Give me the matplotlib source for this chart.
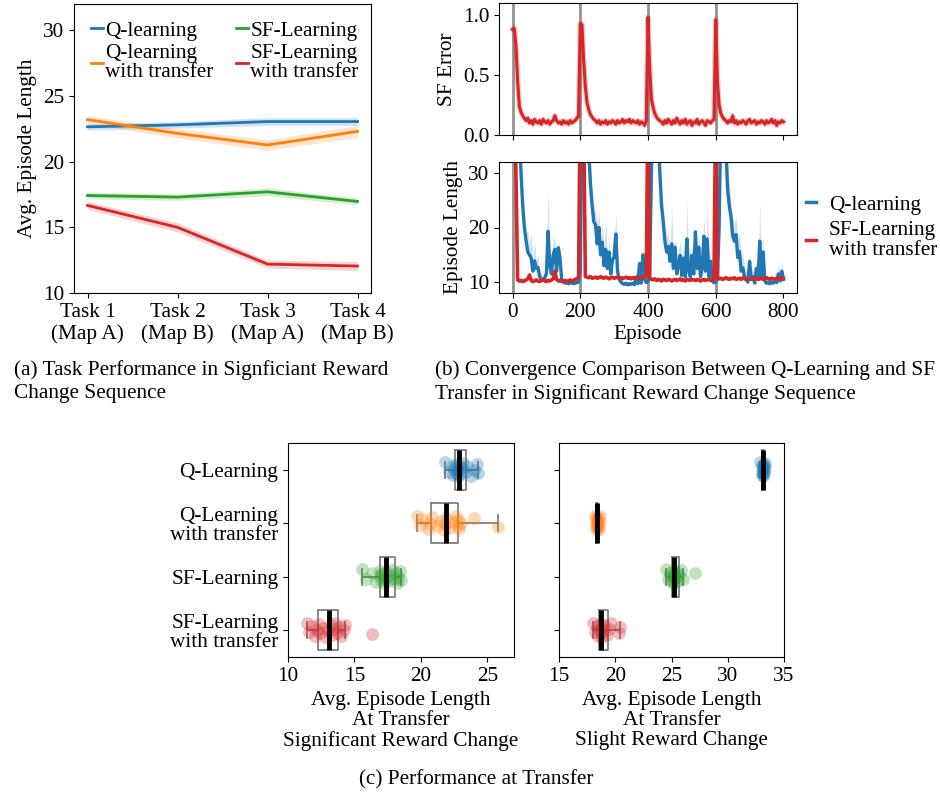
import numpy as np
import matplotlib
matplotlib.use("Agg")
import matplotlib.pyplot as plt

plt.rcParams["font.family"] = ["Liberation Serif", "DejaVu Serif"]
plt.rcParams["font.size"] = 15.3

W, H = 940, 794
BLUE, ORANGE, GREEN, RED = "#1f77b4", "#ff7f0e", "#2ca02c", "#d62728"

# ---- (a) task performance, significant reward change sequence
tasks = ["Task 1\n(Map A)", "Task 2\n(Map B)", "Task 3\n(Map A)", "Task 4\n(Map B)"]
q_mean = [22.65, 22.8, 23.05, 23.05]
q_ci = [0.25, 0.25, 0.3, 0.3]
qt_mean = [23.2, 22.15, 21.27, 22.3]
qt_ci = [0.3, 0.35, 0.4, 0.45]
sf_mean = [17.42, 17.3, 17.7, 16.97]
sf_ci = [0.25, 0.25, 0.3, 0.25]
sft_mean = [16.67, 15.0, 12.2, 12.05]
sft_ci = [0.3, 0.35, 0.3, 0.35]

# ---- (b) convergence, sampled every 5 episodes (0..800)
sf_err = [
    0.88, 0.89, 0.75, 0.45, 0.24, 0.19, 0.16, 0.14, 0.12, 0.14,
    0.10, 0.12, 0.09, 0.13, 0.11, 0.10, 0.12, 0.09, 0.13, 0.11,
    0.10, 0.12, 0.09, 0.11, 0.12, 0.16, 0.12, 0.10, 0.11, 0.09,
    0.12, 0.10, 0.11, 0.09, 0.12, 0.10, 0.11, 0.12, 0.14, 0.16,
    0.93, 0.92, 0.62, 0.40, 0.27, 0.21, 0.17, 0.15, 0.13, 0.12,
    0.10, 0.12, 0.09, 0.11, 0.10, 0.12, 0.09, 0.11, 0.10, 0.12,
    0.11, 0.09, 0.12, 0.10, 0.11, 0.13, 0.10, 0.12, 0.11, 0.13,
    0.10, 0.12, 0.11, 0.10, 0.12, 0.09, 0.11, 0.10, 0.08, 0.12,
    0.98, 0.55, 0.30, 0.23, 0.18, 0.15, 0.13, 0.12, 0.11, 0.09,
    0.12, 0.10, 0.13, 0.11, 0.09, 0.12, 0.10, 0.14, 0.11, 0.09,
    0.12, 0.10, 0.13, 0.09, 0.11, 0.12, 0.08, 0.11, 0.10, 0.13,
    0.09, 0.11, 0.12, 0.10, 0.08, 0.12, 0.11, 0.10, 0.12, 0.13,
    0.96, 0.45, 0.25, 0.18, 0.15, 0.13, 0.12, 0.10, 0.12, 0.11,
    0.16, 0.10, 0.12, 0.09, 0.11, 0.10, 0.12, 0.11, 0.09, 0.12,
    0.13, 0.10, 0.11, 0.12, 0.09, 0.11, 0.10, 0.12, 0.11, 0.09,
    0.12, 0.10, 0.11, 0.13, 0.10, 0.12, 0.08, 0.11, 0.10, 0.12,
    0.11,
]
q_len = [
    60, 55, 50, 45, 38, 30, 24, 20, 17.5, 15.5,
    15.0, 14.4, 12.0, 13.9, 12.5, 12.7, 11.0, 10.5, 10.3, 10.8,
    11.5, 19.3, 13.0, 11.5, 15.0, 16.0, 12.0, 16.3, 14.5, 10.5,
    10.0, 9.8, 9.9, 9.7, 9.8, 9.9, 9.7, 9.8, 9.9, 10.0,
    12, 40, 45, 45, 40, 34, 28, 24, 21, 20.5,
    17, 20, 15, 17.3, 13, 16, 12.5, 15.5, 11.5, 14.0,
    14.6, 18.8, 12, 10.5, 10.0, 9.7, 9.6, 9.8, 9.5, 9.7,
    9.6, 9.8, 9.5, 10.8, 9.7, 13.4, 9.8, 15.0, 10.5, 9.9,
    10.2, 12, 30, 45, 45, 45, 38, 30, 24, 21.0,
    17.4, 15.5, 16.5, 13.8, 17.0, 12.5, 16.4, 11.5, 13.0, 14.9,
    11.2, 14.4, 11.0, 17.9, 12.0, 11.0, 14.9, 11.5, 19.2, 12.5,
    16.4, 11.0, 12.5, 18.4, 12.0, 17.9, 11.0, 13.8, 10.2, 9.9,
    10.0, 10.5, 20, 40, 45, 45, 35, 27, 24, 22,
    18.5, 17.5, 18.7, 14.5, 15.6, 12.0, 12.6, 11.0, 10.5, 10.0,
    13.8, 10.5, 11.0, 9.8, 12.5, 10.5, 17.5, 11.0, 15.5, 10.2,
    9.8, 9.9, 9.7, 10.0, 9.8, 10.5, 9.9, 11.5, 10.2, 12.0,
    10.5,
]
q_hi = [
    60, 55, 50, 45, 40, 33, 27, 23, 19, 19.5,
    17, 19, 14, 17.5, 14, 15, 12.5, 11.5, 11, 12,
    15.9, 26.5, 15, 13, 18.5, 17.5, 14, 17.5, 16, 11.5,
    10.4, 10.2, 10.3, 10.1, 10.2, 10.3, 10.1, 10.2, 10.3, 10.4,
    14, 45, 45, 45, 45, 38, 32, 27, 24, 23,
    21, 23, 18, 21, 16, 22, 14.5, 18, 13.5, 17.3,
    17.5, 22.5, 14, 11.5, 10.5, 10.1, 10.0, 10.2, 9.9, 10.1,
    10.0, 10.2, 10.0, 12, 10.2, 15, 10.4, 17, 11.5, 10.4,
    10.5, 14, 35, 45, 45, 45, 42, 34, 28, 23.5,
    20.5, 18.5, 19, 16.5, 24.0, 14.5, 18.5, 13.5, 16, 17.5,
    13, 17.3, 12.5, 25.0, 14, 12.5, 17, 13, 21, 14.5,
    18.5, 12.5, 14.5, 22, 14, 25.0, 12.5, 15.5, 10.8, 10.4,
    10.4, 12, 28, 45, 45, 45, 40, 32, 28, 25,
    22, 21, 22, 18, 19, 15, 15, 13, 12, 11,
    15.5, 12, 12.5, 10.5, 14.5, 12, 25.0, 13, 18.5, 11.5,
    10.4, 10.4, 10.2, 10.5, 10.3, 11.5, 10.4, 13.5, 11, 14,
    11,
]
sf_len = [
    45, 45, 30, 10.4, 10.2, 10.3, 10.1, 10.2, 10.4, 10.6,
    11.3, 10.3, 10.1, 10.2, 10.4, 10.2, 10.1, 10.3, 10.5, 10.2,
    10.1, 10.3, 10.2, 10.4, 10.6, 12.0, 10.5, 10.2, 10.3, 10.1,
    10.2, 10.3, 10.1, 10.2, 10.4, 10.2, 10.3, 10.5, 10.6, 10.9,
    45, 45, 40, 11.0, 10.9, 10.8, 11.0, 10.7, 10.8, 10.9,
    10.7, 10.8, 11.0, 10.8, 10.7, 10.9, 10.8, 10.6, 10.8, 10.9,
    10.7, 10.8, 10.9, 10.7, 10.8, 10.6, 10.8, 10.9, 10.7, 10.8,
    10.6, 10.8, 10.7, 10.9, 10.8, 10.7, 10.9, 10.8, 10.9, 11.2,
    45, 10.8, 10.5, 10.4, 10.6, 10.3, 10.5, 10.4, 10.2, 10.5,
    10.4, 10.3, 10.5, 10.4, 10.2, 10.4, 10.5, 10.3, 10.4, 10.6,
    10.3, 10.4, 10.2, 10.5, 10.4, 10.3, 10.5, 10.4, 10.3, 10.5,
    10.4, 10.2, 10.4, 10.5, 10.3, 10.4, 10.5, 10.3, 10.4, 10.5,
    45, 10.8, 10.6, 10.7, 10.5, 10.6, 10.8, 10.6, 10.5, 10.7,
    10.6, 10.8, 10.5, 10.6, 10.7, 10.5, 10.8, 10.6, 10.5, 10.7,
    10.6, 10.5, 10.7, 10.6, 10.8, 10.5, 10.6, 10.7, 10.5, 10.6,
    10.8, 10.6, 10.5, 10.7, 10.6, 10.5, 10.7, 10.6, 10.8, 10.6,
    10.7,
]
episodes = np.arange(0, 801, 5)
task_switches = [0, 200, 400, 600]

# ---- (c) performance at transfer
box_labels = ["Q-Learning", "Q-Learning\nwith transfer", "SF-Learning", "SF-Learning\nwith transfer"]
sig_q = [21.8, 22.1, 22.3, 22.4, 22.5, 22.6, 22.6, 22.7, 22.8, 22.8,
         22.9, 23.0, 23.1, 23.2, 23.4, 23.5, 23.8, 24.0, 24.2, 24.3]
sig_qt = [19.7, 19.9, 20.1, 20.5, 20.7, 20.8, 21.2, 21.5, 21.7, 21.8,
          21.9, 22.1, 22.3, 22.6, 22.8, 22.8, 22.9, 23.0, 24.0, 25.8]
sig_sf = [15.6, 15.9, 16.3, 16.6, 16.9, 16.95, 17.0, 17.1, 17.2, 17.3,
          17.4, 17.5, 17.6, 17.8, 18.05, 18.1, 18.2, 18.3, 18.4, 18.5]
sig_sft = [11.4, 11.6, 11.8, 12.0, 12.2, 12.3, 12.4, 12.6, 12.8, 13.0,
           13.2, 13.3, 13.4, 13.5, 13.7, 13.8, 14.0, 14.2, 14.3, 16.35]
sl_q = [32.9, 33.0, 33.0, 33.05, 33.1, 33.1, 33.1, 33.15, 33.15, 33.2, 33.2, 33.25, 33.3, 33.35]
sl_qt = [18.2, 18.25, 18.3, 18.3, 18.35, 18.4, 18.4, 18.4, 18.45, 18.5, 18.5, 18.55, 18.6, 18.65]
sl_sf = [24.5, 24.7, 24.9, 25.0, 25.0, 25.1, 25.15, 25.2, 25.2, 25.3, 25.4, 25.6, 25.7, 25.8, 26.05, 27.1]
sl_sft = [18.0, 18.2, 18.4, 18.5, 18.55, 18.6, 18.7, 18.75, 18.8, 18.9, 19.0, 19.3, 19.4, 19.6, 20.3, 20.4]


def px_axes(fig, l, t, r, b):
    return fig.add_axes([l / W, 1 - b / H, (r - l) / W, (b - t) / H])


fig = plt.figure(figsize=(W / 100, H / 100), dpi=100)

# (a)
ax = px_axes(fig, 74, 4, 371, 293)
x = np.arange(len(tasks))
for m, c, col, lab in [(q_mean, q_ci, BLUE, "Q-learning"),
                       (qt_mean, qt_ci, ORANGE, "Q-learning\nwith transfer"),
                       (sf_mean, sf_ci, GREEN, "SF-Learning"),
                       (sft_mean, sft_ci, RED, "SF-Learning\nwith transfer")]:
    m = np.array(m)
    c = np.array(c)
    ax.fill_between(x, m - c, m + c, color=col, alpha=0.2, lw=0)
    ax.plot(x, m, color=col, lw=2, label=lab)
ax.set_xticks(x)
ax.set_xticklabels(tasks)
ax.set_xlim(-0.15, 3.15)
ax.set_ylim(10, 32)
ax.set_yticks([10, 15, 20, 25, 30])
ax.set_ylabel("Avg. Episode Length")
leg_a = ax.legend(loc="upper left", ncol=2, frameon=False, handlelength=0.55,
                  handletextpad=0.1, columnspacing=1.1, labelspacing=0.15,
                  borderaxespad=0.5, borderpad=0.3)
for t in leg_a.get_texts():
    t.set_linespacing(1.0)

# (b) top
ax1 = px_axes(fig, 499, 3, 797, 135)
for s in task_switches:
    ax1.axvline(s, color="grey", lw=2, alpha=0.85, zorder=0)
ax1.plot(episodes, sf_err, color=RED, lw=4, alpha=0.25)
ax1.plot(episodes, sf_err, color=RED, lw=2.2)
ax1.set_xlim(-40, 840)
ax1.set_ylim(0, 1.1)
ax1.set_yticks([0, 0.5, 1.0])
ax1.set_yticklabels(["0.0", "0.5", "1.0"])
ax1.set_xticks([0, 200, 400, 600, 800])
ax1.tick_params(labelbottom=False)
ax1.set_ylabel("SF Error")

# (b) bottom
ax2 = px_axes(fig, 499, 162, 797, 293)
for s in task_switches:
    ax2.axvline(s, color="grey", lw=2, alpha=0.85, zorder=0)
ax2.fill_between(episodes, q_len, q_hi, color=BLUE, alpha=0.2, lw=0)
ax2.plot(episodes, q_len, color=BLUE, lw=2.4, label="Q-learning")
ax2.plot(episodes, sf_len, color=RED, lw=2.6, label="SF-Learning\nwith transfer")
ax2.set_xlim(-40, 840)
ax2.set_ylim(8, 32)
ax2.set_yticks([10, 20, 30])
ax2.set_xticks([0, 200, 400, 600, 800])
ax2.set_xlabel("Episode", labelpad=2)
ax2.set_ylabel("Episode Length")
leg_b = ax2.legend(loc="center left", bbox_to_anchor=(1.0, 0.5), frameon=False,
                   handlelength=0.5, handletextpad=0.6, borderaxespad=0,
                   labelspacing=0.3)
for h in leg_b.get_lines():
    h.set_linewidth(2.5)
for t in leg_b.get_texts():
    t.set_linespacing(1.05)


# (c)
def strip_box(ax, groups):
    pos = np.arange(len(groups))
    bp = ax.boxplot(groups, positions=pos, orientation="horizontal", widths=0.75,
                    showfliers=False, capwidths=0.3, patch_artist=False,
                    boxprops=dict(color="grey", lw=1.3),
                    whiskerprops=dict(color="grey", lw=1.3),
                    capprops=dict(color="grey", lw=1.3),
                    medianprops=dict(color="black", lw=3.5))
    for med in bp["medians"]:
        med.set_zorder(5)
    for i, (vals, col) in enumerate(zip(groups, [BLUE, ORANGE, GREEN, RED])):
        n = len(vals)
        offs = ((np.arange(n) * 0.618034) % 1 - 0.5) * 0.28
        ax.scatter(vals, i + offs, s=85, color=col, alpha=0.3, lw=0, zorder=3)
    ax.set_ylim(3.5, -0.5)
    ax.set_yticks(pos)


axc1 = px_axes(fig, 288, 443, 514, 657)
strip_box(axc1, [sig_q, sig_qt, sig_sf, sig_sft])
axc1.set_yticklabels(box_labels, linespacing=1.05)
axc1.set_xlim(10, 27)
axc1.set_xticks([10, 15, 20, 25])
axc1.set_xlabel("Avg. Episode Length\nAt Transfer\nSignificant Reward Change", linespacing=1.05)

axc2 = px_axes(fig, 559, 443, 784, 657)
strip_box(axc2, [sl_q, sl_qt, sl_sf, sl_sft])
axc2.set_yticklabels([])
axc2.set_xlim(15, 35)
axc2.set_xticks([15, 20, 25, 30, 35])
axc2.set_xlabel("Avg. Episode Length\nAt Transfer\nSlight Reward Change", linespacing=1.05)

# captions
fig.text(14 / W, 1 - 360 / H, "(a) Task Performance in Signficiant Reward\nChange Sequence",
         va="top", ha="left", fontsize=15.3, linespacing=1.27)
fig.text(435 / W, 1 - 360 / H, "(b) Convergence Comparison Between Q-Learning and SF\nTransfer in Significant Reward Change Sequence",
         va="top", ha="left", fontsize=15.3, linespacing=1.27)
fig.text(476 / W, 1 - 780 / H, "(c) Performance at Transfer", va="center", ha="center", fontsize=15.3)

fig.savefig("out.png", dpi=100)
